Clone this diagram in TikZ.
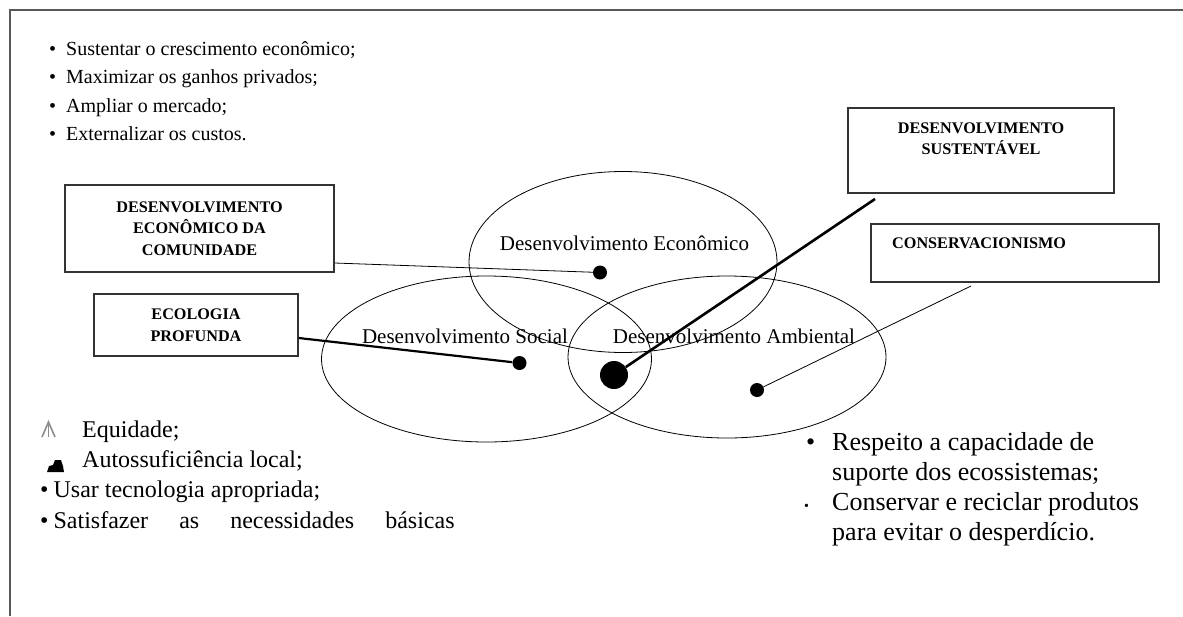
\documentclass[tikz,border=0pt]{standalone}
\usepackage{fontspec}
\setmainfont{Liberation Serif}
\usetikzlibrary{positioning,shapes.geometric}
\begin{document}
\begin{tikzpicture}[x=1pt,y=-1pt,
  caixa/.style={draw=black!80, line width=1.3pt, rectangle, inner sep=0pt},
  rotulo/.style={font=\fontsize{16.2}{21.5}\selectfont\bfseries, align=center, inner sep=0pt},
  esfera/.style={draw, ellipse, line width=0.8pt, inner sep=0pt},
  ponto/.style={circle, fill, inner sep=0pt, minimum size=14pt},
  item/.style={anchor=base west, inner sep=0pt}]
\useasboundingbox (0,0) rectangle (1183,616);
\draw[black!65, line width=2pt] (10,616) -- (10,10) -- (1183,10);
% lista economica
\node[item, font=\fontsize{20}{24}\selectfont] (eco1) at (49,55) {\textbullet\hspace{10pt}Sustentar o crescimento econômico;};
\node[item, font=\fontsize{20}{24}\selectfont] (eco2) at (49,83.5) {\textbullet\hspace{10pt}Maximizar os ganhos privados;};
\node[item, font=\fontsize{20}{24}\selectfont] (eco3) at (49,112) {\textbullet\hspace{10pt}Ampliar o mercado;};
\node[item, font=\fontsize{20}{24}\selectfont] (eco4) at (49,140.5) {\textbullet\hspace{10pt}Externalizar os custos.};
% caixas
\node[caixa, minimum width=269pt, minimum height=87pt] (comunidade) at (199.5,228.5) {};
\node[rotulo] (comunidadetxt) at (comunidade) {DESENVOLVIMENTO\\ECONÔMICO DA\\COMUNIDADE};
\node[caixa, minimum width=204pt, minimum height=62pt] (ecologia) at (196,325) {};
\node[rotulo] (ecologiatxt) at (ecologia) {ECOLOGIA\\PROFUNDA};
\node[caixa, minimum width=266pt, minimum height=85pt] (sust) at (981,150.5) {};
\node[rotulo, anchor=north, below=15pt of sust.north] (susttxt) {DESENVOLVIMENTO\\SUSTENTÁVEL};
\node[caixa, minimum width=288pt, minimum height=58pt] (conserv) at (1015,253) {};
\node[rotulo, anchor=west] (conservtxt) at (892,243) {CONSERVACIONISMO};
% esferas
\node[esfera, minimum width=308pt, minimum height=181pt] (economico) at (623,262) {};
\node[esfera, minimum width=330pt, minimum height=166pt] (social) at (486.5,359) {};
\node[esfera, minimum width=318pt, minimum height=162pt] (ambiental) at (727,357) {};
\node[font=\fontsize{21}{24}\selectfont, inner sep=0pt] (economicotxt) at (624.5,243) {Desenvolvimento Econômico};
\node[font=\fontsize{21}{24}\selectfont, inner sep=0pt] (socialtxt) at (465,336) {Desenvolvimento Social};
\node[font=\fontsize{21}{24}\selectfont, inner sep=0pt] (ambientaltxt) at (734,336) {Desenvolvimento Ambiental};
\node[ponto] (ecodot) at (600,272.5) {};
\node[ponto] (socialdot) at (519.5,363) {};
\node[ponto, minimum size=28pt] (sustdot) at (614,375) {};
\node[ponto] (ambdot) at (757,390) {};
\coordinate (sustpe) at (875,199);
\coordinate (conservpe) at (971,286);
\draw[line width=0.8pt] ([yshift=-34.5pt]comunidade.east) -- (ecodot);
\draw[line width=2.2pt] ([yshift=-13pt]ecologia.east) -- (socialdot);
\draw[line width=2.6pt] (sustpe) -- (sustdot);
\draw[line width=0.8pt] (conservpe) -- (ambdot);
% lista social
\draw[black!45, line width=1.6pt] (42,437) -- (48.5,422) -- (55,437);
\draw[black!45, line width=1.6pt] (48.5,422) -- (48.5,437);
\fill (47,472) -- (49,466) -- (53,465) -- (55,460) -- (61,460) -- (63,466) -- (64,472) -- cycle;
\node[item, font=\fontsize{24}{28}\selectfont] (soc1) at (82,437) {Equidade;};
\node[item, font=\fontsize{24}{28}\selectfont] (soc2) at (82,467) {Autossuficiência local;};
\node[item, font=\fontsize{24}{28}\selectfont] (soc3) at (40,497) {\textbullet\hspace{5pt}Usar tecnologia apropriada;};
\node[item, font=\fontsize{24}{28}\selectfont] (soc4) at (40,528) {\textbullet\hspace{5pt}\makebox[401pt][s]{Satisfazer as necessidades básicas}};
% lista ambiental
\node[item, font=\fontsize{26}{30}\selectfont] (amb1) at (806,450) {\textbullet};
\node[item, font=\fontsize{26}{30}\selectfont] (amb1a) at (832,450) {Respeito a capacidade de};
\node[item, font=\fontsize{26}{30}\selectfont] (amb1b) at (832,480) {suporte dos ecossistemas;};
\node[item, font=\fontsize{14}{30}\selectfont] (amb2) at (804,510) {\textbullet};
\node[item, font=\fontsize{26}{30}\selectfont] (amb2a) at (832,510) {Conservar e reciclar produtos};
\node[item, font=\fontsize{26}{30}\selectfont] (amb2b) at (832,540) {para evitar o desperdício.};
\end{tikzpicture}
\end{document}
